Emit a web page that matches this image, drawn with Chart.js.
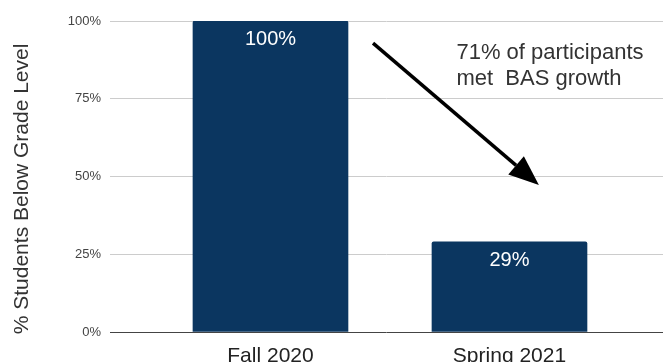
<!DOCTYPE html>
<html>
<head>
<meta charset="utf-8">
<script src="https://cdn.jsdelivr.net/npm/chart.js@4/dist/chart.umd.min.js"></script>
<style>
  html, body { margin: 0; padding: 0; background: #fff; }
  #wrap { width: 663px; height: 362px; }
</style>
</head>
<body>
<div id="wrap"><canvas id="myChart"></canvas></div>
<script>
const categories = ['Fall 2020', 'Spring 2021'];
const belowGrade = [100, 29];
const yTicks = [0, 25, 50, 75, 100];
const noteLines = ['71% of participants', 'met  BAS growth'];

const FONT = 'Arial, "Liberation Sans", sans-serif';
const barColor = '#0b3660';

// value labels inside the top of each bar
const barLabels = {
    id: 'barLabels',
    afterDatasetsDraw(chart) {
        const ctx = chart.ctx;
        const meta = chart.getDatasetMeta(0);
        ctx.save();
        ctx.fillStyle = '#fff';
        ctx.font = '20px ' + FONT;
        ctx.textAlign = 'center';
        ctx.textBaseline = 'alphabetic';
        meta.data.forEach((bar, i) => {
            ctx.fillText(belowGrade[i] + '%', bar.x, bar.y + 24);
        });
        ctx.restore();
    }
};

// arrow + note between the two bars, placed in data units
const growthNote = {
    id: 'growthNote',
    afterDraw(chart) {
        const ctx = chart.ctx;
        const x = chart.scales.x, y = chart.scales.y;
        const x0 = x.getPixelForValue(1.429), y0 = y.getPixelForValue(92.9);
        const x1 = x.getPixelForValue(2.123), y1 = y.getPixelForValue(47.3);
        const ang = Math.atan2(y1 - y0, x1 - x0);
        const headLen = 30, headW = 12;
        const bx = x1 - headLen * Math.cos(ang), by = y1 - headLen * Math.sin(ang);

        ctx.save();
        ctx.strokeStyle = '#000';
        ctx.fillStyle = '#000';
        ctx.lineWidth = 3.5;
        ctx.beginPath();
        ctx.moveTo(x0, y0);
        ctx.lineTo(bx, by);
        ctx.stroke();

        ctx.beginPath();
        ctx.moveTo(x1, y1);
        ctx.lineTo(bx + headW * Math.sin(ang), by - headW * Math.cos(ang));
        ctx.lineTo(bx - headW * Math.sin(ang), by + headW * Math.cos(ang));
        ctx.closePath();
        ctx.fill();

        ctx.fillStyle = '#333';
        ctx.font = '22px ' + FONT;
        ctx.textAlign = 'left';
        ctx.textBaseline = 'alphabetic';
        const tx = x.getPixelForValue(1.778);
        ctx.fillText(noteLines[0], tx, y.getPixelForValue(87.8));
        ctx.fillText(noteLines[1], tx, y.getPixelForValue(79.5));
        ctx.restore();
    }
};

// rotated axis title, sitting a little below the plot's vertical centre
const axisTitle = {
    id: 'axisTitle',
    afterDraw(chart) {
        const ctx = chart.ctx;
        const y = chart.scales.y;
        ctx.save();
        ctx.translate(22, y.getPixelForValue(46));
        ctx.rotate(-Math.PI / 2);
        ctx.fillStyle = '#333';
        ctx.font = '21px ' + FONT;
        ctx.textAlign = 'center';
        ctx.textBaseline = 'middle';
        ctx.fillText('% Students Below Grade Level', 0, 0);
        ctx.restore();
    }
};

const data = {
    datasets: [{
        label: '% Students Below Grade Level',
        data: belowGrade.map((v, i) => ({ x: i + 1, y: v })),
        backgroundColor: barColor,
        barThickness: 155,
        borderRadius: { topLeft: 2, topRight: 2 },
        borderSkipped: 'start'
    }]
};

const config = {
    type: 'bar',
    data: data,
    options: {
        responsive: true,
        maintainAspectRatio: false,
        animation: false,
        layout: { padding: { top: 21, right: 0, bottom: 0, left: 0 } },
        plugins: {
            legend: { display: false },
            tooltip: { enabled: false }
        },
        scales: {
            x: {
                type: 'linear',
                offset: false,
                min: 0.3285,
                max: 2.6423,
                grid: { display: false, offset: false },
                border: { display: false },
                ticks: {
                    stepSize: 1,
                    includeBounds: false,
                    autoSkip: false,
                    maxRotation: 0,
                    padding: 4,
                    color: '#222',
                    font: { family: FONT, size: 21 },
                    callback: v => categories[v - 1] || ''
                },
                afterFit(scale) { scale.height = 30; }
            },
            y: {
                min: 0,
                max: 100,
                afterBuildTicks(scale) { scale.ticks = yTicks.map(v => ({ value: v })); },
                grid: {
                    drawTicks: false,
                    color: ctx => ctx.tick && ctx.tick.value === 0 ? '#444' : '#ccc',
                    lineWidth: 1
                },
                border: { display: false },
                ticks: {
                    padding: 9,
                    color: '#444',
                    font: { family: FONT, size: 13 },
                    callback: v => v + '%'
                },
                afterFit(scale) { scale.width = 110; }
            }
        }
    },
    plugins: [barLabels, growthNote, axisTitle]
};

const myChart = new Chart(document.getElementById('myChart'), config);
</script>
</body>
</html>
